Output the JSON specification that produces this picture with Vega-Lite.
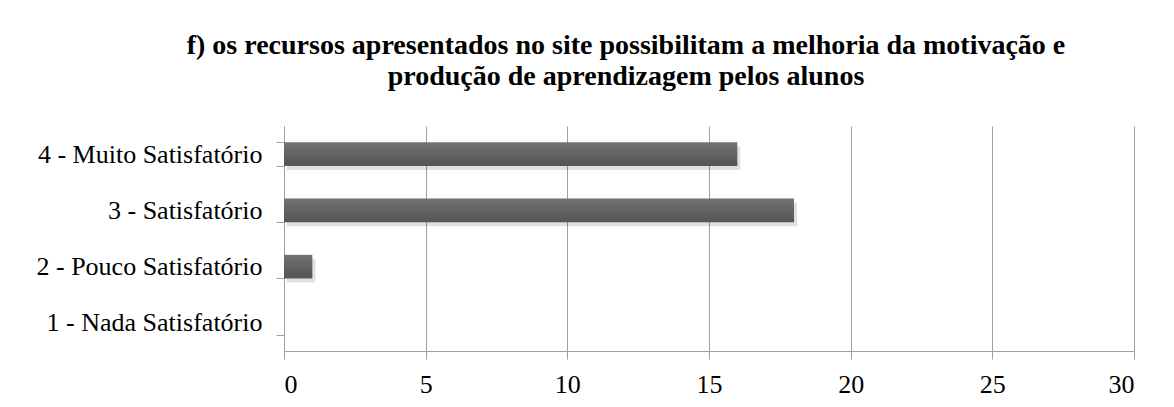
{
  "$schema": "https://vega.github.io/schema/vega-lite/v6.json",
  "autosize": "none",
  "width": 850,
  "height": 225,
  "padding": {"left": 284, "top": 126, "right": 40, "bottom": 56},
  "background": "white",
  "title": {
    "text": ["f) os recursos apresentados no site possibilitam a melhoria da motivação e", "produção de aprendizagem pelos alunos"],
    "font": "Liberation Serif",
    "fontSize": 28,
    "fontWeight": "bold",
    "color": "black",
    "anchor": "middle",
    "lineHeight": 31,
    "offset": 22,
    "dx": -83
  },
  "data": {
    "values": [
      {"categoria": "1 - Nada Satisfatório", "valor": 0},
      {"categoria": "2 - Pouco Satisfatório", "valor": 1},
      {"categoria": "3 - Satisfatório", "valor": 18},
      {"categoria": "4 - Muito Satisfatório", "valor": 16}
    ]
  },
  "encoding": {
    "y": {
      "field": "categoria",
      "type": "nominal",
      "sort": "descending",
      "scale": {"paddingInner": 0.58, "paddingOuter": 0.29},
      "axis": {
        "title": null,
        "labelFont": "Liberation Serif",
        "labelFontSize": 26,
        "labelColor": "black",
        "labelPadding": 14,
        "labelLimit": 400,
        "tickBand": "extent",
        "tickSize": 8,
        "tickColor": "#a0a0a0",
        "domainColor": "#a0a0a0",
        "grid": false
      }
    },
    "x": {
      "field": "valor",
      "type": "quantitative",
      "scale": {"domain": [0, 30], "nice": false},
      "axis": {
        "title": null,
        "values": [0, 5, 10, 15, 20, 25, 30],
        "labelFont": "Liberation Serif",
        "labelFontSize": 26,
        "labelColor": "black",
        "labelPadding": 12,
        "tickSize": 8,
        "tickColor": "#a0a0a0",
        "domainColor": "#a0a0a0",
        "grid": true,
        "gridColor": "#a0a0a0"
      }
    }
  },
  "layer": [
    {
      "mark": {"type": "bar", "fill": "#000000", "opacity": 0.12, "xOffset": 3, "yOffset": 4}
    },
    {
      "mark": {
        "type": "bar",
        "fill": {
          "gradient": "linear",
          "x1": 0, "y1": 0, "x2": 0, "y2": 1,
          "stops": [
            {"offset": 0, "color": "#727272"},
            {"offset": 1, "color": "#545454"}
          ]
        }
      }
    }
  ],
  "config": {
    "view": {"stroke": null}
  }
}
